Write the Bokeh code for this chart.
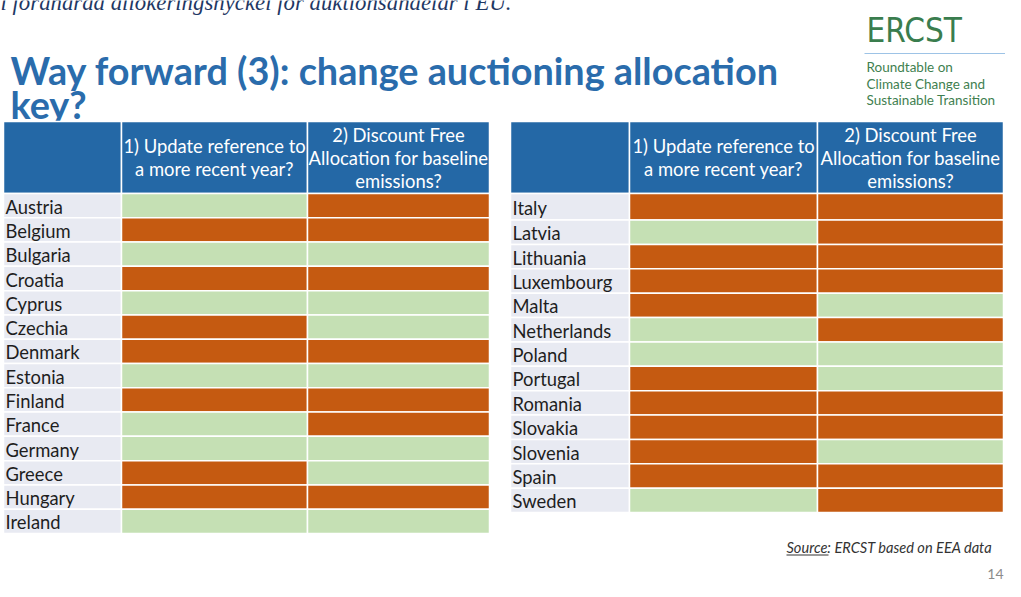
from bokeh.plotting import figure
from bokeh.models import ColumnDataSource, Range1d
from bokeh.core.properties import value
from bokeh.embed import file_html
from bokeh.resources import INLINE

# ---------------- data ----------------
left_countries = ["Austria", "Belgium", "Bulgaria", "Croatia", "Cyprus", "Czechia", "Denmark",
                  "Estonia", "Finland", "France", "Germany", "Greece", "Hungary", "Ireland"]
left_update = ["G", "O", "G", "O", "G", "O", "O", "G", "O", "G", "G", "O", "O", "G"]
left_discount = ["O", "O", "G", "O", "G", "G", "O", "G", "O", "O", "G", "G", "O", "G"]

right_countries = ["Italy", "Latvia", "Lithuania", "Luxembourg", "Malta", "Netherlands", "Poland",
                   "Portugal", "Romania", "Slovakia", "Slovenia", "Spain", "Sweden"]
right_update = ["O", "G", "O", "O", "O", "G", "G", "O", "O", "O", "O", "O", "G"]
right_discount = ["O", "O", "O", "O", "G", "O", "G", "G", "O", "O", "G", "O", "O"]

col1_header = ["1) Update reference to", "a more recent year?"]
col2_header = ["2) Discount Free", "Allocation for baseline", "emissions?"]

top_line = "i förändrad allokeringsnyckel för auktionsandelar i EU."
title_lines = ["Way forward (3): change auctioning allocation", "key?"]
logo_name = "ERCST"
logo_sub = ["Roundtable on", "Climate Change and", "Sustainable Transition"]
source_note = "Source: ERCST based on EEA data"
page_no = "14"

# ---------------- styles ----------------
ORANGE = "#C55A11"
GREEN = "#C5E0B4"
NAME_BG = "#E8EAF2"
HEAD_BG = "#2468A6"
TITLE_C = "#2A6CAC"
COLORS = {"O": ORANGE, "G": GREEN}
FONT = "Lato"

W, H = 1005, 581
p = figure(width=W, height=H, x_range=Range1d(0, W), y_range=Range1d(H, 0),
           output_backend="svg", toolbar_location=None, min_border=0)
p.axis.visible = False
p.grid.visible = False
p.outline_line_color = None
p.background_fill_color = "white"


def base(y, size):
    # place an alphabetic baseline at screen y
    return y - 0.35 * size


# top cut-off line
p.text(x=[0], y=[base(10, 22.8)], text=[top_line], text_font=value("Liberation Serif"),
       text_font_style="italic", text_font_size="22.8px", text_color="#1F3864",
       text_baseline="alphabetic")

# title
p.text(x=[10, 10], y=[base(83, 37.8), base(117, 37.8)], text=title_lines, text_font=value(FONT),
       text_font_style="bold", text_font_size="37.8px", text_color=TITLE_C,
       text_baseline="alphabetic")

# logo
p.text(x=[866], y=[base(42, 33)], text=[logo_name], text_font=value("DejaVu Sans Condensed, Roboto"),
       text_font_size="33px", text_color="#3A7D4E", text_baseline="alphabetic")
p.segment(x0=[864], y0=[53], x1=[1013], y1=[53], line_color="#9DC3E6", line_width=1.2)
p.text(x=[866] * 3, y=[base(v, 13.5) for v in (71, 88, 104)], text=logo_sub, text_font=value(FONT),
       text_font_size="13.5px", text_color="#3F7F50", text_baseline="alphabetic")


def draw_table(countries, q1, q2, xs, row_edges):
    head_top, head_bot = 121, row_edges[0]
    p.quad(left=xs[:-1], right=xs[1:], top=[head_top] * 3, bottom=[head_bot] * 3,
           fill_color=HEAD_BG, line_color="white", line_width=1.5)
    n = len(countries)
    tops = row_edges[:-1]
    bots = row_edges[1:]
    src = ColumnDataSource(dict(
        left=[xs[0]] * n + [xs[1]] * n + [xs[2]] * n,
        right=[xs[1]] * n + [xs[2]] * n + [xs[3]] * n,
        top=tops * 3, bottom=bots * 3,
        color=[NAME_BG] * n + [COLORS[v] for v in q1] + [COLORS[v] for v in q2],
    ))
    p.quad(left="left", right="right", top="top", bottom="bottom", fill_color="color",
           line_color="white", line_width=1.5, source=src)
    mids = [(a + b) / 2 + 1 for a, b in zip(tops, bots)]
    p.text(x=[xs[0] + 2] * n, y=mids, text=countries, text_font=value(FONT),
           text_font_size="18.4px", text_color="#1E1E1E", text_baseline="middle")
    c1 = (xs[1] + xs[2]) / 2
    c2 = (xs[2] + xs[3]) / 2
    hm = (head_top + head_bot) / 2
    lh = 23
    y1 = [hm - lh / 2 + i * lh for i in range(len(col1_header))]
    y2 = [hm - lh + i * lh for i in range(len(col2_header))]
    p.text(x=[c1] * len(y1) + [c2] * len(y2), y=y1 + y2, text=col1_header + col2_header,
           text_font=value(FONT), text_font_size="18.4px", text_color="white",
           text_align="center", text_baseline="middle")


left_edges = [193 + i * (533 - 193) / len(left_countries) for i in range(len(left_countries) + 1)]
draw_table(left_countries, left_update, left_discount, [3, 121, 307, 489], left_edges)

rstep = (512 - 219.5) / (len(right_countries) - 1)
right_edges = [193] + [219.5 + i * rstep for i in range(len(right_countries))]
draw_table(right_countries, right_update, right_discount, [510, 629, 817, 1003], right_edges)

# source + page number
p.text(x=[786], y=[base(552, 14.6)], text=[source_note], text_font=value("Lato"), text_font_style="italic",
       text_font_size="14.6px", text_color="#333333", text_baseline="alphabetic")
p.segment(x0=[786], y0=[554.5], x1=[828], y1=[554.5], line_color="#333333", line_width=1)
p.text(x=[1003], y=[base(578, 14)], text=[page_no], text_font=value(FONT), text_font_size="14px",
       text_color="#8C8C8C", text_align="right", text_baseline="alphabetic")

open("out.html", "w").write(file_html(p, INLINE))
